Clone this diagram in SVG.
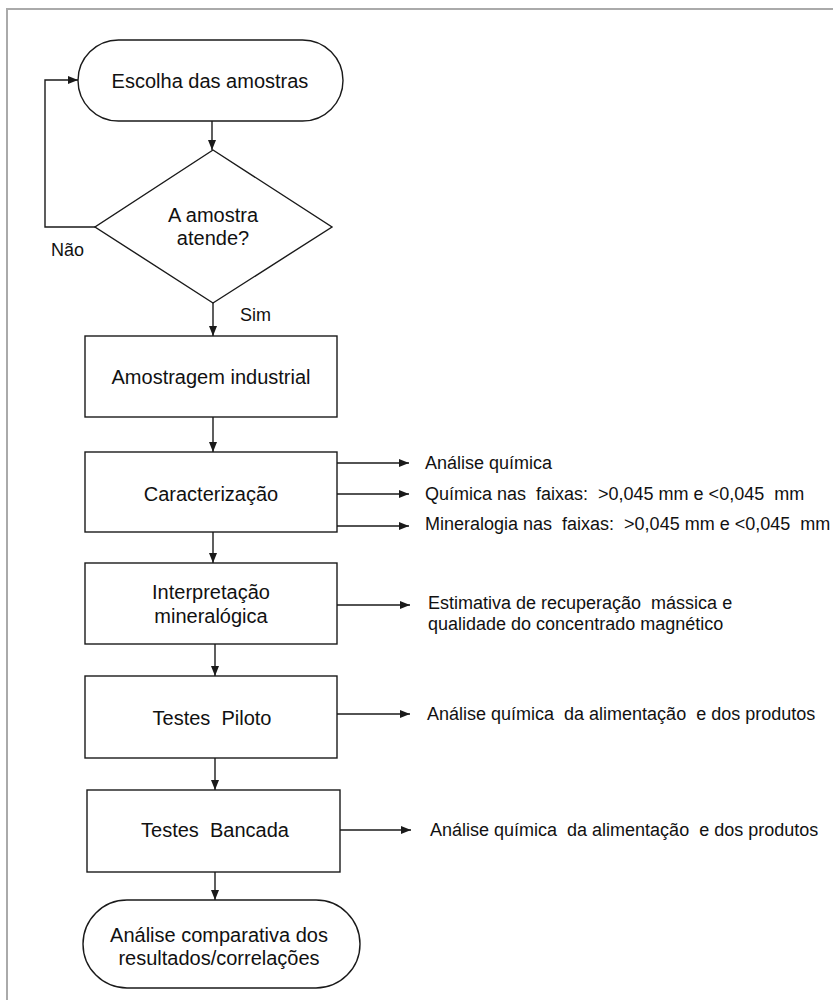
<svg xmlns="http://www.w3.org/2000/svg" width="833" height="1000" viewBox="0 0 833 1000">
<style>
.shape{fill:#fff;stroke:#1a1a1a;stroke-width:1.4}
.conn{fill:none;stroke:#1a1a1a;stroke-width:1.4}
.main{font-family:"Liberation Sans",Arial,sans-serif;font-size:20px;fill:#111;text-anchor:middle}
.side{font-family:"Liberation Sans",Arial,sans-serif;font-size:18px;fill:#111}
</style>
<defs>
<marker id="ah" viewBox="0 0 10 8" refX="10" refY="4" markerWidth="10" markerHeight="8" markerUnits="userSpaceOnUse" orient="auto">
<path d="M0,0 L10,4 L0,8 Z" fill="#1a1a1a"/>
</marker>
</defs>
<rect x="0" y="0" width="833" height="1000" fill="#fff"/>
<path d="M7,1000 V9 H833" fill="none" stroke="#aaa" stroke-width="2"/>

<g id="n-escolha">
<rect class="shape" x="78" y="40" width="265" height="81" rx="40.5" ry="40.5"/>
<text class="main" x="210" y="88">Escolha das amostras</text>
</g>
<g id="n-decisao">
<polygon class="shape" points="213,150 332,227 213,303 95,227"/>
<text class="main" x="213" y="222">A amostra</text>
<text class="main" x="213" y="245">atende?</text>
</g>
<g id="n-amostragem">
<rect class="shape" x="85" y="336" width="252" height="81"/>
<text class="main" x="211" y="384">Amostragem industrial</text>
</g>
<g id="n-caracterizacao">
<rect class="shape" x="85" y="452" width="252" height="80"/>
<text class="main" x="211" y="501">Caracterização</text>
</g>
<g id="n-interpretacao">
<rect class="shape" x="85" y="563" width="252" height="81"/>
<text class="main" x="211" y="599">Interpretação</text>
<text class="main" x="211" y="623">mineralógica</text>
</g>
<g id="n-piloto">
<rect class="shape" x="85" y="676" width="252" height="82"/>
<text class="main" x="212" y="725" xml:space="preserve">Testes  Piloto</text>
</g>
<g id="n-bancada">
<rect class="shape" x="87" y="790" width="253" height="82"/>
<text class="main" x="215" y="837" xml:space="preserve">Testes  Bancada</text>
</g>
<g id="n-analise">
<rect class="shape" x="83" y="900" width="277" height="88" rx="44" ry="44"/>
<text class="main" x="219" y="942">Análise comparativa dos</text>
<text class="main" x="219" y="965">resultados/correlações</text>
</g>

<g id="labels">
<text class="side" x="51" y="256">Não</text>
<text class="side" x="240" y="321">Sim</text>
<text class="side" x="425" y="469">Análise química</text>
<text class="side" x="425" y="500" xml:space="preserve">Química nas  faixas:  &gt;0,045 mm e &lt;0,045  mm</text>
<text class="side" x="425" y="530" xml:space="preserve">Mineralogia nas  faixas:  &gt;0,045 mm e &lt;0,045  mm</text>
<text class="side" x="428" y="609" xml:space="preserve">Estimativa de recuperação  mássica e</text>
<text class="side" x="428" y="630">qualidade do concentrado magnético</text>
<text class="side" x="427" y="720" xml:space="preserve">Análise química  da alimentação  e dos produtos</text>
<text class="side" x="430" y="836" xml:space="preserve">Análise química  da alimentação  e dos produtos</text>
</g>

<g id="connectors">
<path class="conn" d="M212,121 V150" marker-end="url(#ah)"/>
<path class="conn" d="M95,227 H45 V80 H78" marker-end="url(#ah)"/>
<path class="conn" d="M213,303 V336" marker-end="url(#ah)"/>
<path class="conn" d="M213,417 V452" marker-end="url(#ah)"/>
<path class="conn" d="M213,532 V563" marker-end="url(#ah)"/>
<path class="conn" d="M215,644 V676" marker-end="url(#ah)"/>
<path class="conn" d="M215,758 V790" marker-end="url(#ah)"/>
<path class="conn" d="M215,872 V900" marker-end="url(#ah)"/>
<path class="conn" d="M337,463 H409" marker-end="url(#ah)"/>
<path class="conn" d="M337,494 H409" marker-end="url(#ah)"/>
<path class="conn" d="M337,526 H409" marker-end="url(#ah)"/>
<path class="conn" d="M337,605 H410" marker-end="url(#ah)"/>
<path class="conn" d="M337,714 H410" marker-end="url(#ah)"/>
<path class="conn" d="M340,830 H411" marker-end="url(#ah)"/>
</g>
</svg>
